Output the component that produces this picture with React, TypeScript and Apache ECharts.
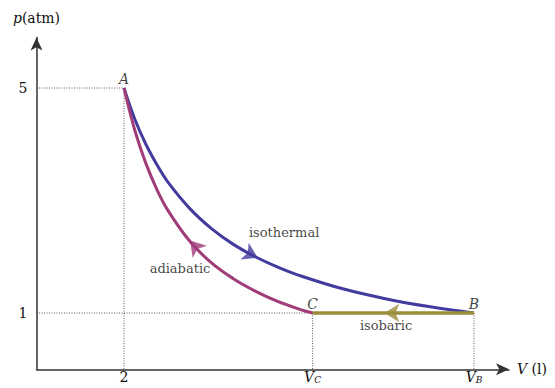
import React, { useEffect, useRef } from "react";
import * as echarts from "echarts";

// Volume V (l) and pressure p (atm)
const isothermal: number[][] = [
  [2, 5], [2.25, 4.44], [2.5, 4], [2.75, 3.64], [3, 3.33], [3.5, 2.86], [4, 2.5],
  [4.5, 2.22], [5, 2], [5.5, 1.82], [6, 1.67], [7, 1.43], [8, 1.25], [9, 1.11], [10, 1],
];
const adiabatic: number[][] = [
  [6.31, 1], [6, 1.07], [5.5, 1.21], [5, 1.39], [4.5, 1.61], [4, 1.89], [3.5, 2.28],
  [3, 2.83], [2.75, 3.2], [2.5, 3.66], [2.25, 4.24], [2, 5],
];
const isobaric: number[][] = [[10, 1], [6.31, 1]];

const pointNames = ["A", "B", "C"];
const pointValues: number[][] = [[2, 5], [10, 1], [6.31, 1]];

const xTickValues = [2, 6.31, 10];
const xTickLabels = ["{n|2}", "{i|V}{s|C}", "{i|V}{s|B}"];
const yTickValues = [1, 5];
const yTickLabels = ["1", "5"];

// arrow positions on the curves and their directions (deg)
const arrowIso = { value: [5.06, 1.98], rotate: -116.7 };
const arrowAdi = { value: [3.51, 2.29], rotate: 40.4 };
const arrowBar = { value: [7.95, 1], rotate: 90 };

const processNames = ["isothermal", "adiabatic", "isobaric"];
const processLabelPos: number[][] = [[5.66, 2.44], [3.28, 1.8], [7.99, 0.77]];

const guideLines: number[][][] = [
  [[0, 5], [2, 5]],
  [[2, 5], [2, 0]],
  [[0, 1], [10, 1]],
  [[6.31, 1], [6.31, 0]],
  [[10, 1], [10, 0]],
];

const FONT = "'DejaVu Serif', 'Liberation Serif', serif";
const FS = 14;
const C_ISO = "#433c9e";
const C_ADI = "#a03c78";
const C_BAR = "#9a8d3c";

export default function App() {
  const ref = useRef<HTMLDivElement>(null);
  useEffect(() => {
    if (!ref.current) return;
    const chart = echarts.init(ref.current, undefined, { renderer: "svg" });
    const guideSeries = guideLines.map((seg) => ({
      type: "line",
      data: seg,
      showSymbol: false,
      silent: true,
      z: 1,
      lineStyle: { color: "#333", width: 0.8, type: [1, 1.5] },
    }));
    chart.setOption({
      animation: false,
      grid: { left: 36.5, right: 46, top: 37.4, bottom: 18.75, outerBoundsMode: "none", containLabel: false },
      xAxis: {
        type: "value",
        min: 0,
        max: 10.8,
        name: "{i|V} (l)",
        nameLocation: "end",
        nameGap: 8,
        nameTextStyle: {
          fontFamily: FONT,
          fontSize: FS,
          color: "#111",
          rich: { i: { fontStyle: "italic", fontFamily: FONT, fontSize: FS, color: "#111" } },
        },
        axisLine: {
          lineStyle: { color: "#333", width: 1.5 },
          symbol: ["none", "arrow"],
          symbolSize: [9, 13],
        },
        axisTick: { show: false },
        splitLine: { show: false },
        axisLabel: {
          customValues: xTickValues,
          margin: 1,
          fontFamily: FONT,
          fontSize: FS,
          color: "#111",
          formatter: (v: number) => {
            const i = xTickValues.findIndex((t) => Math.abs(t - v) < 1e-6);
            return i >= 0 ? xTickLabels[i] : "";
          },
          rich: {
            n: { fontFamily: FONT, fontSize: FS, lineHeight: 14, color: "#111" },
            i: { fontStyle: "italic", fontFamily: FONT, fontSize: FS, lineHeight: 14, color: "#111" },
            s: { fontStyle: "italic", fontFamily: FONT, fontSize: 9, lineHeight: 10, color: "#111", verticalAlign: "bottom", padding: [3, 0, 0, 0] },
          },
        },
      },
      yAxis: {
        type: "value",
        min: 0,
        max: 5.9,
        name: "{i|p}(atm)",
        nameLocation: "end",
        nameGap: 12,
        nameTextStyle: {
          fontFamily: FONT,
          fontSize: FS,
          color: "#111",
          align: "center",
          rich: { i: { fontStyle: "italic", fontFamily: FONT, fontSize: FS, color: "#111" } },
        },
        axisLine: {
          show: true,
          lineStyle: { color: "#333", width: 1.5 },
          symbol: ["none", "arrow"],
          symbolSize: [9, 13],
        },
        axisTick: { show: false },
        splitLine: { show: false },
        axisLabel: {
          customValues: yTickValues,
          margin: 9,
          fontFamily: FONT,
          fontSize: FS,
          color: "#111",
          formatter: (v: number) => {
            const i = yTickValues.findIndex((t) => Math.abs(t - v) < 1e-6);
            return i >= 0 ? yTickLabels[i] : "";
          },
        },
      },
      series: [
        ...guideSeries,
        {
          type: "line",
          data: isothermal,
          smooth: 0.4,
          showSymbol: false,
          z: 3,
          lineStyle: { color: C_ISO, width: 3 },
        },
        {
          type: "line",
          data: adiabatic,
          smooth: 0.4,
          showSymbol: false,
          z: 4,
          lineStyle: { color: C_ADI, width: 3 },
        },
        {
          type: "line",
          data: isobaric,
          showSymbol: false,
          z: 3,
          lineStyle: { color: C_BAR, width: 3.5 },
        },
        {
          type: "scatter",
          z: 5,
          symbol: "arrow",
          symbolSize: [14, 15],
          data: [
            { value: arrowIso.value, symbolRotate: arrowIso.rotate, itemStyle: { color: C_ISO } },
            { value: arrowAdi.value, symbolRotate: arrowAdi.rotate, itemStyle: { color: C_ADI } },
            { value: arrowBar.value, symbolRotate: arrowBar.rotate, itemStyle: { color: C_BAR } },
          ],
        },
        {
          type: "scatter",
          z: 6,
          symbolSize: 0,
          data: pointValues.map((v, i) => ({ name: pointNames[i], value: v })),
          label: {
            show: true,
            position: "top",
            distance: 2,
            formatter: (p: any) => p.name,
            fontFamily: FONT,
            fontStyle: "italic",
            fontSize: FS,
            color: "#111",
          },
        },
        {
          type: "scatter",
          z: 6,
          symbolSize: 0,
          data: processLabelPos.map((v, i) => ({ name: processNames[i], value: v })),
          label: {
            show: true,
            position: "inside",
            formatter: (p: any) => p.name,
            fontFamily: FONT,
            fontSize: 13,
            color: "#111",
          },
        },
      ],
    });
    return () => chart.dispose();
  }, []);
  return (
    <div
      ref={ref}
      style={{ position: "absolute", left: 0, top: 0, width: 555, height: 388, background: "#fff" }}
    />
  );
}
